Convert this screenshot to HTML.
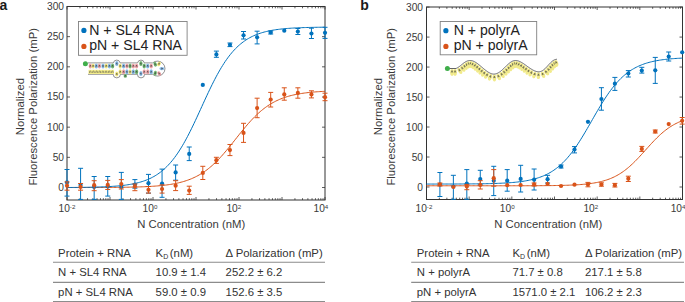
<!DOCTYPE html><html><head><meta charset="utf-8"><style>
html,body{margin:0;padding:0;background:#fff;}
svg{display:block;}
text{font-family:"Liberation Sans",sans-serif;fill:#3a3a3a;}
.tk{font-size:10.2px;}
.sup{font-size:6.2px;}
.lab{font-size:11.3px;}
.leg{font-size:14.1px;fill:#222;}
.tb{font-size:11.35px;fill:#333;}
.pl{font-size:14px;font-weight:bold;fill:#1a1a1a;}
</style></head><body>
<svg width="685" height="302" viewBox="0 0 685 302">
<text x="-0.5" y="9.7" class="pl">a</text>
<rect x="67.0" y="6.5" width="258.0" height="193.5" fill="none" stroke="#333333" stroke-width="1"/>
<path d="M67.00,200.0v-3M67.00,6.5v3M79.94,200.0v-1.8M79.94,6.5v1.8M87.52,200.0v-1.8M87.52,6.5v1.8M92.89,200.0v-1.8M92.89,6.5v1.8M97.06,200.0v-1.8M97.06,6.5v1.8M100.46,200.0v-1.8M100.46,6.5v1.8M103.34,200.0v-1.8M103.34,6.5v1.8M105.83,200.0v-1.8M105.83,6.5v1.8M108.03,200.0v-1.8M108.03,6.5v1.8M110.00,200.0v-3M110.00,6.5v3M122.94,200.0v-1.8M122.94,6.5v1.8M130.52,200.0v-1.8M130.52,6.5v1.8M135.89,200.0v-1.8M135.89,6.5v1.8M140.06,200.0v-1.8M140.06,6.5v1.8M143.46,200.0v-1.8M143.46,6.5v1.8M146.34,200.0v-1.8M146.34,6.5v1.8M148.83,200.0v-1.8M148.83,6.5v1.8M151.03,200.0v-1.8M151.03,6.5v1.8M153.00,200.0v-3M153.00,6.5v3M165.94,200.0v-1.8M165.94,6.5v1.8M173.52,200.0v-1.8M173.52,6.5v1.8M178.89,200.0v-1.8M178.89,6.5v1.8M183.06,200.0v-1.8M183.06,6.5v1.8M186.46,200.0v-1.8M186.46,6.5v1.8M189.34,200.0v-1.8M189.34,6.5v1.8M191.83,200.0v-1.8M191.83,6.5v1.8M194.03,200.0v-1.8M194.03,6.5v1.8M196.00,200.0v-3M196.00,6.5v3M208.94,200.0v-1.8M208.94,6.5v1.8M216.52,200.0v-1.8M216.52,6.5v1.8M221.89,200.0v-1.8M221.89,6.5v1.8M226.06,200.0v-1.8M226.06,6.5v1.8M229.46,200.0v-1.8M229.46,6.5v1.8M232.34,200.0v-1.8M232.34,6.5v1.8M234.83,200.0v-1.8M234.83,6.5v1.8M237.03,200.0v-1.8M237.03,6.5v1.8M239.00,200.0v-3M239.00,6.5v3M251.94,200.0v-1.8M251.94,6.5v1.8M259.52,200.0v-1.8M259.52,6.5v1.8M264.89,200.0v-1.8M264.89,6.5v1.8M269.06,200.0v-1.8M269.06,6.5v1.8M272.46,200.0v-1.8M272.46,6.5v1.8M275.34,200.0v-1.8M275.34,6.5v1.8M277.83,200.0v-1.8M277.83,6.5v1.8M280.03,200.0v-1.8M280.03,6.5v1.8M282.00,200.0v-3M282.00,6.5v3M294.94,200.0v-1.8M294.94,6.5v1.8M302.52,200.0v-1.8M302.52,6.5v1.8M307.89,200.0v-1.8M307.89,6.5v1.8M312.06,200.0v-1.8M312.06,6.5v1.8M315.46,200.0v-1.8M315.46,6.5v1.8M318.34,200.0v-1.8M318.34,6.5v1.8M320.83,200.0v-1.8M320.83,6.5v1.8M323.03,200.0v-1.8M323.03,6.5v1.8M325.0,200.0v-3M325.0,6.5v3M67.0,187.50h3M325.0,187.50h-3M67.0,157.33h3M325.0,157.33h-3M67.0,127.16h3M325.0,127.16h-3M67.0,96.99h3M325.0,96.99h-3M67.0,66.82h3M325.0,66.82h-3M67.0,36.65h3M325.0,36.65h-3M67.0,6.48h3M325.0,6.48h-3" stroke="#333333" stroke-width="0.8" fill="none"/>
<text x="64" y="191.00" text-anchor="end" class="tk">0</text>
<text x="64" y="160.83" text-anchor="end" class="tk">50</text>
<text x="64" y="130.66" text-anchor="end" class="tk">100</text>
<text x="64" y="100.49" text-anchor="end" class="tk">150</text>
<text x="64" y="70.32" text-anchor="end" class="tk">200</text>
<text x="64" y="40.15" text-anchor="end" class="tk">250</text>
<text x="64" y="9.98" text-anchor="end" class="tk">300</text>
<text x="58.50" y="212" class="tk">10<tspan class="sup" dy="-3.2">-2</tspan></text>
<text x="142.60" y="212" class="tk">10<tspan class="sup" dy="-3.2">0</tspan></text>
<text x="226.40" y="212" class="tk">10<tspan class="sup" dy="-3.2">2</tspan></text>
<text x="313.50" y="212" class="tk">10<tspan class="sup" dy="-3.2">4</tspan></text>
<text transform="translate(23.8,106.6) rotate(-90)" text-anchor="middle" class="lab">Normalized</text>
<text transform="translate(37.2,106.8) rotate(-90)" text-anchor="middle" class="lab">Fluorescence Polarization (mP)</text>
<text x="137.2" y="227.6" class="lab">N Concentration (nM)</text>
<svg x="0" y="0" width="685" height="302">
<path d="M67.00,187.54 L68.30,187.53 L69.59,187.53 L70.89,187.53 L72.19,187.53 L73.48,187.53 L74.78,187.53 L76.08,187.53 L77.37,187.52 L78.67,187.52 L79.96,187.52 L81.26,187.52 L82.56,187.52 L83.85,187.51 L85.15,187.51 L86.45,187.51 L87.74,187.51 L89.04,187.50 L90.34,187.50 L91.63,187.50 L92.93,187.49 L94.23,187.49 L95.52,187.48 L96.82,187.48 L98.12,187.47 L99.41,187.47 L100.71,187.46 L102.01,187.46 L103.30,187.45 L104.60,187.44 L105.89,187.44 L107.19,187.43 L108.49,187.42 L109.78,187.41 L111.08,187.40 L112.38,187.39 L113.67,187.38 L114.97,187.37 L116.27,187.36 L117.56,187.34 L118.86,187.33 L120.16,187.31 L121.45,187.30 L122.75,187.28 L124.05,187.26 L125.34,187.24 L126.64,187.22 L127.93,187.20 L129.23,187.17 L130.53,187.14 L131.82,187.12 L133.12,187.09 L134.42,187.05 L135.71,187.02 L137.01,186.98 L138.31,186.94 L139.60,186.90 L140.90,186.86 L142.20,186.81 L143.49,186.76 L144.79,186.70 L146.09,186.64 L147.38,186.58 L148.68,186.51 L149.97,186.44 L151.27,186.36 L152.57,186.28 L153.86,186.20 L155.16,186.10 L156.46,186.00 L157.75,185.90 L159.05,185.78 L160.35,185.66 L161.64,185.53 L162.94,185.40 L164.24,185.25 L165.53,185.09 L166.83,184.93 L168.13,184.75 L169.42,184.56 L170.72,184.36 L172.02,184.14 L173.31,183.91 L174.61,183.67 L175.90,183.41 L177.20,183.14 L178.50,182.84 L179.79,182.53 L181.09,182.20 L182.39,181.85 L183.68,181.48 L184.98,181.08 L186.28,180.66 L187.57,180.22 L188.87,179.74 L190.17,179.25 L191.46,178.72 L192.76,178.16 L194.06,177.57 L195.35,176.95 L196.65,176.30 L197.94,175.61 L199.24,174.89 L200.54,174.13 L201.83,173.33 L203.13,172.49 L204.43,171.61 L205.72,170.69 L207.02,169.73 L208.32,168.72 L209.61,167.68 L210.91,166.59 L212.21,165.46 L213.50,164.29 L214.80,163.08 L216.10,161.82 L217.39,160.52 L218.69,159.19 L219.98,157.81 L221.28,156.40 L222.58,154.96 L223.87,153.48 L225.17,151.98 L226.47,150.44 L227.76,148.88 L229.06,147.30 L230.36,145.70 L231.65,144.09 L232.95,142.46 L234.25,140.83 L235.54,139.19 L236.84,137.55 L238.14,135.92 L239.43,134.29 L240.73,132.67 L242.03,131.07 L243.32,129.48 L244.62,127.92 L245.91,126.38 L247.21,124.86 L248.51,123.38 L249.80,121.92 L251.10,120.51 L252.40,119.12 L253.69,117.78 L254.99,116.47 L256.29,115.20 L257.58,113.98 L258.88,112.79 L260.18,111.65 L261.47,110.55 L262.77,109.50 L264.07,108.48 L265.36,107.51 L266.66,106.58 L267.95,105.69 L269.25,104.84 L270.55,104.03 L271.84,103.26 L273.14,102.53 L274.44,101.83 L275.73,101.17 L277.03,100.54 L278.33,99.94 L279.62,99.37 L280.92,98.84 L282.22,98.33 L283.51,97.86 L284.81,97.41 L286.11,96.98 L287.40,96.58 L288.70,96.20 L289.99,95.84 L291.29,95.50 L292.59,95.19 L293.88,94.89 L295.18,94.61 L296.48,94.35 L297.77,94.10 L299.07,93.87 L300.37,93.65 L301.66,93.44 L302.96,93.25 L304.26,93.07 L305.55,92.90 L306.85,92.74 L308.15,92.59 L309.44,92.45 L310.74,92.32 L312.04,92.20 L313.33,92.08 L314.63,91.97 L315.92,91.87 L317.22,91.78 L318.52,91.69 L319.81,91.61 L321.11,91.53 L322.41,91.46 L323.70,91.39 L325.00,91.32" fill="none" stroke="#D95319" stroke-width="1.0"/>
<path d="M67.00,187.50 L68.30,187.49 L69.59,187.48 L70.89,187.47 L72.19,187.46 L73.48,187.45 L74.78,187.44 L76.08,187.43 L77.37,187.42 L78.67,187.40 L79.96,187.39 L81.26,187.37 L82.56,187.36 L83.85,187.34 L85.15,187.32 L86.45,187.30 L87.74,187.28 L89.04,187.26 L90.34,187.23 L91.63,187.20 L92.93,187.17 L94.23,187.14 L95.52,187.11 L96.82,187.07 L98.12,187.03 L99.41,186.99 L100.71,186.95 L102.01,186.90 L103.30,186.85 L104.60,186.80 L105.89,186.74 L107.19,186.67 L108.49,186.61 L109.78,186.53 L111.08,186.46 L112.38,186.37 L113.67,186.28 L114.97,186.19 L116.27,186.09 L117.56,185.98 L118.86,185.86 L120.16,185.73 L121.45,185.60 L122.75,185.45 L124.05,185.30 L125.34,185.13 L126.64,184.95 L127.93,184.76 L129.23,184.55 L130.53,184.34 L131.82,184.10 L133.12,183.85 L134.42,183.58 L135.71,183.30 L137.01,182.99 L138.31,182.66 L139.60,182.31 L140.90,181.94 L142.20,181.54 L143.49,181.11 L144.79,180.65 L146.09,180.17 L147.38,179.65 L148.68,179.10 L149.97,178.51 L151.27,177.88 L152.57,177.21 L153.86,176.50 L155.16,175.75 L156.46,174.95 L157.75,174.10 L159.05,173.20 L160.35,172.24 L161.64,171.23 L162.94,170.16 L164.24,169.02 L165.53,167.83 L166.83,166.57 L168.13,165.24 L169.42,163.84 L170.72,162.37 L172.02,160.83 L173.31,159.21 L174.61,157.52 L175.90,155.75 L177.20,153.90 L178.50,151.98 L179.79,149.98 L181.09,147.90 L182.39,145.74 L183.68,143.51 L184.98,141.21 L186.28,138.84 L187.57,136.41 L188.87,133.91 L190.17,131.35 L191.46,128.73 L192.76,126.07 L194.06,123.36 L195.35,120.61 L196.65,117.83 L197.94,115.02 L199.24,112.20 L200.54,109.36 L201.83,106.52 L203.13,103.68 L204.43,100.84 L205.72,98.03 L207.02,95.24 L208.32,92.47 L209.61,89.75 L210.91,87.06 L212.21,84.42 L213.50,81.84 L214.80,79.31 L216.10,76.84 L217.39,74.44 L218.69,72.11 L219.98,69.85 L221.28,67.66 L222.58,65.55 L223.87,63.51 L225.17,61.55 L226.47,59.67 L227.76,57.87 L229.06,56.14 L230.36,54.49 L231.65,52.91 L232.95,51.41 L234.25,49.98 L235.54,48.62 L236.84,47.33 L238.14,46.10 L239.43,44.94 L240.73,43.85 L242.03,42.81 L243.32,41.83 L244.62,40.90 L245.91,40.03 L247.21,39.20 L248.51,38.43 L249.80,37.70 L251.10,37.01 L252.40,36.37 L253.69,35.76 L254.99,35.20 L256.29,34.66 L257.58,34.16 L258.88,33.69 L260.18,33.25 L261.47,32.84 L262.77,32.46 L264.07,32.09 L265.36,31.76 L266.66,31.44 L267.95,31.14 L269.25,30.87 L270.55,30.61 L271.84,30.37 L273.14,30.14 L274.44,29.93 L275.73,29.73 L277.03,29.55 L278.33,29.38 L279.62,29.22 L280.92,29.07 L282.22,28.93 L283.51,28.80 L284.81,28.68 L286.11,28.56 L287.40,28.46 L288.70,28.36 L289.99,28.27 L291.29,28.18 L292.59,28.10 L293.88,28.03 L295.18,27.96 L296.48,27.89 L297.77,27.83 L299.07,27.77 L300.37,27.72 L301.66,27.67 L302.96,27.63 L304.26,27.58 L305.55,27.54 L306.85,27.51 L308.15,27.47 L309.44,27.44 L310.74,27.41 L312.04,27.38 L313.33,27.36 L314.63,27.33 L315.92,27.31 L317.22,27.29 L318.52,27.27 L319.81,27.25 L321.11,27.23 L322.41,27.22 L323.70,27.20 L325.00,27.19" fill="none" stroke="#0072BD" stroke-width="1.0"/>
<path d="M67.00,169.50V196.10M64.50,169.50H69.50M64.50,196.10H69.50" stroke="#0072BD" stroke-width="1" fill="none"/>
<circle cx="67.00" cy="182.40" r="2.1" fill="#0072BD"/>
<path d="M80.58,168.30V199.40M78.08,168.30H83.08M78.08,199.40H83.08" stroke="#0072BD" stroke-width="1" fill="none"/>
<circle cx="80.58" cy="184.90" r="2.1" fill="#0072BD"/>
<path d="M94.16,176.50V199.40M91.66,176.50H96.66M91.66,199.40H96.66" stroke="#0072BD" stroke-width="1" fill="none"/>
<circle cx="94.16" cy="187.00" r="2.1" fill="#0072BD"/>
<path d="M107.74,176.50V196.10M105.24,176.50H110.24M105.24,196.10H110.24" stroke="#0072BD" stroke-width="1" fill="none"/>
<circle cx="107.74" cy="186.50" r="2.1" fill="#0072BD"/>
<path d="M121.32,172.40V199.40M118.82,172.40H123.82M118.82,199.40H123.82" stroke="#0072BD" stroke-width="1" fill="none"/>
<circle cx="121.32" cy="187.00" r="2.1" fill="#0072BD"/>
<path d="M134.90,179.60V188.20M132.40,179.60H137.40M132.40,188.20H137.40" stroke="#0072BD" stroke-width="1" fill="none"/>
<circle cx="134.90" cy="184.50" r="2.1" fill="#0072BD"/>
<path d="M148.48,174.40V193.10M145.98,174.40H150.98M145.98,193.10H150.98" stroke="#0072BD" stroke-width="1" fill="none"/>
<circle cx="148.48" cy="183.20" r="2.1" fill="#0072BD"/>
<path d="M162.06,169.10V197.30M159.56,169.10H164.56M159.56,197.30H164.56" stroke="#0072BD" stroke-width="1" fill="none"/>
<circle cx="162.06" cy="183.50" r="2.1" fill="#0072BD"/>
<path d="M175.64,165.00V180.20M173.14,165.00H178.14M173.14,180.20H178.14" stroke="#0072BD" stroke-width="1" fill="none"/>
<circle cx="175.64" cy="172.40" r="2.1" fill="#0072BD"/>
<path d="M189.22,147.00V160.60M186.72,147.00H191.72M186.72,160.60H191.72" stroke="#0072BD" stroke-width="1" fill="none"/>
<circle cx="189.22" cy="153.90" r="2.1" fill="#0072BD"/>
<circle cx="202.80" cy="84.90" r="2.1" fill="#0072BD"/>
<path d="M216.38,51.10V57.30M213.88,51.10H218.88M213.88,57.30H218.88" stroke="#0072BD" stroke-width="1" fill="none"/>
<circle cx="216.38" cy="54.40" r="2.1" fill="#0072BD"/>
<path d="M229.96,43.00V46.60M227.46,43.00H232.46M227.46,46.60H232.46" stroke="#0072BD" stroke-width="1" fill="none"/>
<circle cx="229.96" cy="44.80" r="2.1" fill="#0072BD"/>
<path d="M243.54,31.50V39.00M241.04,31.50H246.04M241.04,39.00H246.04" stroke="#0072BD" stroke-width="1" fill="none"/>
<circle cx="243.54" cy="35.30" r="2.1" fill="#0072BD"/>
<path d="M257.12,31.20V43.90M254.62,31.20H259.62M254.62,43.90H259.62" stroke="#0072BD" stroke-width="1" fill="none"/>
<circle cx="257.12" cy="37.30" r="2.1" fill="#0072BD"/>
<path d="M270.70,31.00V34.00M268.20,31.00H273.20M268.20,34.00H273.20" stroke="#0072BD" stroke-width="1" fill="none"/>
<circle cx="270.70" cy="32.40" r="2.1" fill="#0072BD"/>
<circle cx="284.28" cy="30.70" r="2.1" fill="#0072BD"/>
<path d="M297.86,28.50V34.50M295.36,28.50H300.36M295.36,34.50H300.36" stroke="#0072BD" stroke-width="1" fill="none"/>
<circle cx="297.86" cy="31.50" r="2.1" fill="#0072BD"/>
<path d="M311.44,28.20V38.50M308.94,28.20H313.94M308.94,38.50H313.94" stroke="#0072BD" stroke-width="1" fill="none"/>
<circle cx="311.44" cy="33.50" r="2.1" fill="#0072BD"/>
<path d="M325.02,27.30V38.40M322.52,27.30H327.52M322.52,38.40H327.52" stroke="#0072BD" stroke-width="1" fill="none"/>
<circle cx="325.02" cy="32.80" r="2.1" fill="#0072BD"/>
<path d="M67.00,181.90V190.20M64.50,181.90H69.50M64.50,190.20H69.50" stroke="#D95319" stroke-width="1" fill="none"/>
<circle cx="67.00" cy="185.70" r="2.1" fill="#D95319"/>
<path d="M80.58,183.50V190.20M78.08,183.50H83.08M78.08,190.20H83.08" stroke="#D95319" stroke-width="1" fill="none"/>
<circle cx="80.58" cy="186.90" r="2.1" fill="#D95319"/>
<path d="M94.16,180.70V190.70M91.66,180.70H96.66M91.66,190.70H96.66" stroke="#D95319" stroke-width="1" fill="none"/>
<circle cx="94.16" cy="185.20" r="2.1" fill="#D95319"/>
<path d="M107.74,180.40V189.50M105.24,180.40H110.24M105.24,189.50H110.24" stroke="#D95319" stroke-width="1" fill="none"/>
<circle cx="107.74" cy="184.90" r="2.1" fill="#D95319"/>
<path d="M121.32,179.60V189.00M118.82,179.60H123.82M118.82,189.00H123.82" stroke="#D95319" stroke-width="1" fill="none"/>
<circle cx="121.32" cy="184.00" r="2.1" fill="#D95319"/>
<path d="M134.90,184.00V190.70M132.40,184.00H137.40M132.40,190.70H137.40" stroke="#D95319" stroke-width="1" fill="none"/>
<circle cx="134.90" cy="186.50" r="2.1" fill="#D95319"/>
<path d="M148.48,186.50V193.10M145.98,186.50H150.98M145.98,193.10H150.98" stroke="#D95319" stroke-width="1" fill="none"/>
<circle cx="148.48" cy="189.80" r="2.1" fill="#D95319"/>
<path d="M162.06,184.80V193.10M159.56,184.80H164.56M159.56,193.10H164.56" stroke="#D95319" stroke-width="1" fill="none"/>
<circle cx="162.06" cy="189.00" r="2.1" fill="#D95319"/>
<path d="M175.64,180.70V190.60M173.14,180.70H178.14M173.14,190.60H178.14" stroke="#D95319" stroke-width="1" fill="none"/>
<circle cx="175.64" cy="185.70" r="2.1" fill="#D95319"/>
<path d="M189.22,186.20V194.40M186.72,186.20H191.72M186.72,194.40H191.72" stroke="#D95319" stroke-width="1" fill="none"/>
<circle cx="189.22" cy="190.60" r="2.1" fill="#D95319"/>
<path d="M202.80,166.30V179.50M200.30,166.30H205.30M200.30,179.50H205.30" stroke="#D95319" stroke-width="1" fill="none"/>
<circle cx="202.80" cy="172.90" r="2.1" fill="#D95319"/>
<path d="M216.38,157.30V163.40M213.88,157.30H218.88M213.88,163.40H218.88" stroke="#D95319" stroke-width="1" fill="none"/>
<circle cx="216.38" cy="160.20" r="2.1" fill="#D95319"/>
<path d="M229.96,144.50V155.60M227.46,144.50H232.46M227.46,155.60H232.46" stroke="#D95319" stroke-width="1" fill="none"/>
<circle cx="229.96" cy="150.10" r="2.1" fill="#D95319"/>
<path d="M243.54,123.30V142.40M241.04,123.30H246.04M241.04,142.40H246.04" stroke="#D95319" stroke-width="1" fill="none"/>
<circle cx="243.54" cy="132.90" r="2.1" fill="#D95319"/>
<path d="M257.12,98.20V117.70M254.62,98.20H259.62M254.62,117.70H259.62" stroke="#D95319" stroke-width="1" fill="none"/>
<circle cx="257.12" cy="108.10" r="2.1" fill="#D95319"/>
<path d="M270.70,92.40V107.00M268.20,92.40H273.20M268.20,107.00H273.20" stroke="#D95319" stroke-width="1" fill="none"/>
<circle cx="270.70" cy="99.50" r="2.1" fill="#D95319"/>
<path d="M284.28,87.80V100.20M281.78,87.80H286.78M281.78,100.20H286.78" stroke="#D95319" stroke-width="1" fill="none"/>
<circle cx="284.28" cy="94.40" r="2.1" fill="#D95319"/>
<path d="M297.86,87.80V98.20M295.36,87.80H300.36M295.36,98.20H300.36" stroke="#D95319" stroke-width="1" fill="none"/>
<circle cx="297.86" cy="92.90" r="2.1" fill="#D95319"/>
<path d="M311.44,90.80V97.90M308.94,90.80H313.94M308.94,97.90H313.94" stroke="#D95319" stroke-width="1" fill="none"/>
<circle cx="311.44" cy="94.40" r="2.1" fill="#D95319"/>
<path d="M325.02,93.20V100.70M322.52,93.20H327.52M322.52,100.70H327.52" stroke="#D95319" stroke-width="1" fill="none"/>
<circle cx="325.02" cy="97.20" r="2.1" fill="#D95319"/>
</svg>
<path d="M88,62.9 H113.4 A3.4,3.4 0 0 1 120.1,62.9 H137.6 A3.4,3.4 0 0 1 144.3,62.9 H152.6 A7.5,7.5 0 1 1 152.6,74.3 H144.6 A3.4,3.4 0 0 1 137.4,74.3 H120.4 A3.6,3.6 0 0 1 113.2,74.3 H88" fill="#fff" stroke="#4a4a4a" stroke-width="0.6"/>
<rect x="88.5" y="69.8" width="25.5" height="4.2" fill="#f3ec8c"/>
<ellipse cx="90.30" cy="65.90" rx="1.65" ry="2.5" fill="#eda3a8" transform="rotate(0.0 90.30 65.90)"/><path d="M89.70,66.80L90.30,65.00L90.90,66.80" stroke="#3a3a3a" stroke-width="0.6" fill="none" opacity="0.9" transform="rotate(0.0 90.30 65.90)"/>
<ellipse cx="93.10" cy="65.90" rx="1.65" ry="2.5" fill="#efe47c" transform="rotate(0.0 93.10 65.90)"/><path d="M92.50,66.80L93.10,65.00L93.70,66.80" stroke="#3a3a3a" stroke-width="0.6" fill="none" opacity="0.9" transform="rotate(0.0 93.10 65.90)"/>
<ellipse cx="96.30" cy="65.90" rx="1.65" ry="2.5" fill="#86b9e6" transform="rotate(0.0 96.30 65.90)"/><path d="M95.70,66.80L96.30,65.00L96.90,66.80" stroke="#3a3a3a" stroke-width="0.6" fill="none" opacity="0.9" transform="rotate(0.0 96.30 65.90)"/>
<ellipse cx="99.40" cy="65.90" rx="1.65" ry="2.5" fill="#eda3a8" transform="rotate(0.0 99.40 65.90)"/><path d="M98.80,66.80L99.40,65.00L100.00,66.80" stroke="#3a3a3a" stroke-width="0.6" fill="none" opacity="0.9" transform="rotate(0.0 99.40 65.90)"/>
<ellipse cx="103.00" cy="65.90" rx="1.65" ry="2.5" fill="#86b9e6" transform="rotate(0.0 103.00 65.90)"/><path d="M102.40,66.80L103.00,65.00L103.60,66.80" stroke="#3a3a3a" stroke-width="0.6" fill="none" opacity="0.9" transform="rotate(0.0 103.00 65.90)"/>
<ellipse cx="106.20" cy="65.90" rx="1.65" ry="2.5" fill="#efe47c" transform="rotate(0.0 106.20 65.90)"/><path d="M105.60,66.80L106.20,65.00L106.80,66.80" stroke="#3a3a3a" stroke-width="0.6" fill="none" opacity="0.9" transform="rotate(0.0 106.20 65.90)"/>
<ellipse cx="109.40" cy="65.90" rx="1.65" ry="2.5" fill="#86b9e6" transform="rotate(0.0 109.40 65.90)"/><path d="M108.80,66.80L109.40,65.00L110.00,66.80" stroke="#3a3a3a" stroke-width="0.6" fill="none" opacity="0.9" transform="rotate(0.0 109.40 65.90)"/>
<ellipse cx="112.60" cy="65.90" rx="1.65" ry="2.5" fill="#72b872" transform="rotate(0.0 112.60 65.90)"/><path d="M112.00,66.80L112.60,65.00L113.20,66.80" stroke="#3a3a3a" stroke-width="0.6" fill="none" opacity="0.9" transform="rotate(0.0 112.60 65.90)"/>
<path d="M89.50,73.0V71.8a0.8,0.8 0 0 1 1.6,0V73.0" stroke="#3a3a3a" stroke-width="0.55" fill="none" opacity="0.85"/>
<path d="M92.65,73.0V71.8a0.8,0.8 0 0 1 1.6,0V73.0" stroke="#3a3a3a" stroke-width="0.55" fill="none" opacity="0.85"/>
<path d="M95.80,73.0V71.8a0.8,0.8 0 0 1 1.6,0V73.0" stroke="#3a3a3a" stroke-width="0.55" fill="none" opacity="0.85"/>
<path d="M98.95,73.0V71.8a0.8,0.8 0 0 1 1.6,0V73.0" stroke="#3a3a3a" stroke-width="0.55" fill="none" opacity="0.85"/>
<path d="M102.10,73.0V71.8a0.8,0.8 0 0 1 1.6,0V73.0" stroke="#3a3a3a" stroke-width="0.55" fill="none" opacity="0.85"/>
<path d="M105.25,73.0V71.8a0.8,0.8 0 0 1 1.6,0V73.0" stroke="#3a3a3a" stroke-width="0.55" fill="none" opacity="0.85"/>
<path d="M108.40,73.0V71.8a0.8,0.8 0 0 1 1.6,0V73.0" stroke="#3a3a3a" stroke-width="0.55" fill="none" opacity="0.85"/>
<path d="M111.55,73.0V71.8a0.8,0.8 0 0 1 1.6,0V73.0" stroke="#3a3a3a" stroke-width="0.55" fill="none" opacity="0.85"/>
<ellipse cx="116.80" cy="63.60" rx="1.65" ry="2.5" fill="#86b9e6" transform="rotate(0.0 116.80 63.60)"/><path d="M116.20,64.50L116.80,62.70L117.40,64.50" stroke="#3a3a3a" stroke-width="0.6" fill="none" opacity="0.9" transform="rotate(0.0 116.80 63.60)"/>
<ellipse cx="116.80" cy="74.00" rx="1.65" ry="2.5" fill="#efe47c" transform="rotate(0.0 116.80 74.00)"/><path d="M116.20,74.90L116.80,73.10L117.40,74.90" stroke="#3a3a3a" stroke-width="0.6" fill="none" opacity="0.9" transform="rotate(0.0 116.80 74.00)"/>
<ellipse cx="120.20" cy="65.90" rx="1.65" ry="2.5" fill="#efe47c" transform="rotate(0.0 120.20 65.90)"/><path d="M119.60,66.80L120.20,65.00L120.80,66.80" stroke="#3a3a3a" stroke-width="0.6" fill="none" opacity="0.9" transform="rotate(0.0 120.20 65.90)"/>
<ellipse cx="123.60" cy="65.90" rx="1.65" ry="2.5" fill="#86b9e6" transform="rotate(0.0 123.60 65.90)"/><path d="M123.00,66.80L123.60,65.00L124.20,66.80" stroke="#3a3a3a" stroke-width="0.6" fill="none" opacity="0.9" transform="rotate(0.0 123.60 65.90)"/>
<ellipse cx="126.90" cy="65.90" rx="1.65" ry="2.5" fill="#eda3a8" transform="rotate(0.0 126.90 65.90)"/><path d="M126.30,66.80L126.90,65.00L127.50,66.80" stroke="#3a3a3a" stroke-width="0.6" fill="none" opacity="0.9" transform="rotate(0.0 126.90 65.90)"/>
<ellipse cx="130.10" cy="65.90" rx="1.65" ry="2.5" fill="#72b872" transform="rotate(0.0 130.10 65.90)"/><path d="M129.50,66.80L130.10,65.00L130.70,66.80" stroke="#3a3a3a" stroke-width="0.6" fill="none" opacity="0.9" transform="rotate(0.0 130.10 65.90)"/>
<ellipse cx="133.30" cy="65.90" rx="1.65" ry="2.5" fill="#eda3a8" transform="rotate(0.0 133.30 65.90)"/><path d="M132.70,66.80L133.30,65.00L133.90,66.80" stroke="#3a3a3a" stroke-width="0.6" fill="none" opacity="0.9" transform="rotate(0.0 133.30 65.90)"/>
<ellipse cx="136.60" cy="65.90" rx="1.65" ry="2.5" fill="#eda3a8" transform="rotate(0.0 136.60 65.90)"/><path d="M136.00,66.80L136.60,65.00L137.20,66.80" stroke="#3a3a3a" stroke-width="0.6" fill="none" opacity="0.9" transform="rotate(0.0 136.60 65.90)"/>
<ellipse cx="120.20" cy="71.80" rx="1.65" ry="2.5" fill="#efe47c" transform="rotate(0.0 120.20 71.80)"/><path d="M119.60,72.70L120.20,70.90L120.80,72.70" stroke="#3a3a3a" stroke-width="0.6" fill="none" opacity="0.9" transform="rotate(0.0 120.20 71.80)"/>
<ellipse cx="123.60" cy="71.80" rx="1.65" ry="2.5" fill="#eda3a8" transform="rotate(0.0 123.60 71.80)"/><path d="M123.00,72.70L123.60,70.90L124.20,72.70" stroke="#3a3a3a" stroke-width="0.6" fill="none" opacity="0.9" transform="rotate(0.0 123.60 71.80)"/>
<ellipse cx="126.90" cy="71.80" rx="1.65" ry="2.5" fill="#86b9e6" transform="rotate(0.0 126.90 71.80)"/><path d="M126.30,72.70L126.90,70.90L127.50,72.70" stroke="#3a3a3a" stroke-width="0.6" fill="none" opacity="0.9" transform="rotate(0.0 126.90 71.80)"/>
<ellipse cx="130.10" cy="71.80" rx="1.65" ry="2.5" fill="#efe47c" transform="rotate(0.0 130.10 71.80)"/><path d="M129.50,72.70L130.10,70.90L130.70,72.70" stroke="#3a3a3a" stroke-width="0.6" fill="none" opacity="0.9" transform="rotate(0.0 130.10 71.80)"/>
<ellipse cx="133.30" cy="71.80" rx="1.65" ry="2.5" fill="#86b9e6" transform="rotate(0.0 133.30 71.80)"/><path d="M132.70,72.70L133.30,70.90L133.90,72.70" stroke="#3a3a3a" stroke-width="0.6" fill="none" opacity="0.9" transform="rotate(0.0 133.30 71.80)"/>
<ellipse cx="136.60" cy="71.80" rx="1.65" ry="2.5" fill="#72b872" transform="rotate(0.0 136.60 71.80)"/><path d="M136.00,72.70L136.60,70.90L137.20,72.70" stroke="#3a3a3a" stroke-width="0.6" fill="none" opacity="0.9" transform="rotate(0.0 136.60 71.80)"/>
<ellipse cx="125.30" cy="75.90" rx="1.7" ry="1.9" fill="#72b872" transform="rotate(0.0 125.30 75.90)"/><path d="M124.70,76.80L125.30,75.00L125.90,76.80" stroke="#3a3a3a" stroke-width="0.6" fill="none" opacity="0.9" transform="rotate(0.0 125.30 75.90)"/>
<ellipse cx="140.90" cy="63.60" rx="1.65" ry="2.5" fill="#72b872" transform="rotate(0.0 140.90 63.60)"/><path d="M140.30,64.50L140.90,62.70L141.50,64.50" stroke="#3a3a3a" stroke-width="0.6" fill="none" opacity="0.9" transform="rotate(0.0 140.90 63.60)"/>
<ellipse cx="140.90" cy="73.60" rx="1.65" ry="2.5" fill="#86b9e6" transform="rotate(0.0 140.90 73.60)"/><path d="M140.30,74.50L140.90,72.70L141.50,74.50" stroke="#3a3a3a" stroke-width="0.6" fill="none" opacity="0.9" transform="rotate(0.0 140.90 73.60)"/>
<ellipse cx="144.20" cy="65.90" rx="1.65" ry="2.5" fill="#72b872" transform="rotate(0.0 144.20 65.90)"/><path d="M143.60,66.80L144.20,65.00L144.80,66.80" stroke="#3a3a3a" stroke-width="0.6" fill="none" opacity="0.9" transform="rotate(0.0 144.20 65.90)"/>
<ellipse cx="147.70" cy="65.90" rx="1.65" ry="2.5" fill="#86b9e6" transform="rotate(0.0 147.70 65.90)"/><path d="M147.10,66.80L147.70,65.00L148.30,66.80" stroke="#3a3a3a" stroke-width="0.6" fill="none" opacity="0.9" transform="rotate(0.0 147.70 65.90)"/>
<ellipse cx="151.20" cy="65.90" rx="1.65" ry="2.5" fill="#eda3a8" transform="rotate(0.0 151.20 65.90)"/><path d="M150.60,66.80L151.20,65.00L151.80,66.80" stroke="#3a3a3a" stroke-width="0.6" fill="none" opacity="0.9" transform="rotate(0.0 151.20 65.90)"/>
<ellipse cx="144.20" cy="71.80" rx="1.65" ry="2.5" fill="#eda3a8" transform="rotate(0.0 144.20 71.80)"/><path d="M143.60,72.70L144.20,70.90L144.80,72.70" stroke="#3a3a3a" stroke-width="0.6" fill="none" opacity="0.9" transform="rotate(0.0 144.20 71.80)"/>
<ellipse cx="147.70" cy="71.80" rx="1.65" ry="2.5" fill="#eda3a8" transform="rotate(0.0 147.70 71.80)"/><path d="M147.10,72.70L147.70,70.90L148.30,72.70" stroke="#3a3a3a" stroke-width="0.6" fill="none" opacity="0.9" transform="rotate(0.0 147.70 71.80)"/>
<ellipse cx="151.20" cy="71.80" rx="1.65" ry="2.5" fill="#86b9e6" transform="rotate(0.0 151.20 71.80)"/><path d="M150.60,72.70L151.20,70.90L151.80,72.70" stroke="#3a3a3a" stroke-width="0.6" fill="none" opacity="0.9" transform="rotate(0.0 151.20 71.80)"/>
<ellipse cx="155.20" cy="64.20" rx="1.65" ry="2.5" fill="#72b872" transform="rotate(-20.0 155.20 64.20)"/><path d="M154.60,65.10L155.20,63.30L155.80,65.10" stroke="#3a3a3a" stroke-width="0.6" fill="none" opacity="0.9" transform="rotate(-20.0 155.20 64.20)"/>
<ellipse cx="159.00" cy="63.80" rx="1.65" ry="2.5" fill="#efe47c" transform="rotate(30.0 159.00 63.80)"/><path d="M158.40,64.70L159.00,62.90L159.60,64.70" stroke="#3a3a3a" stroke-width="0.6" fill="none" opacity="0.9" transform="rotate(30.0 159.00 63.80)"/>
<ellipse cx="161.90" cy="68.60" rx="1.65" ry="2.5" fill="#86b9e6" transform="rotate(90.0 161.90 68.60)"/><path d="M161.30,69.50L161.90,67.70L162.50,69.50" stroke="#3a3a3a" stroke-width="0.6" fill="none" opacity="0.9" transform="rotate(90.0 161.90 68.60)"/>
<ellipse cx="159.20" cy="73.50" rx="1.65" ry="2.5" fill="#eda3a8" transform="rotate(-35.0 159.20 73.50)"/><path d="M158.60,74.40L159.20,72.60L159.80,74.40" stroke="#3a3a3a" stroke-width="0.6" fill="none" opacity="0.9" transform="rotate(-35.0 159.20 73.50)"/>
<ellipse cx="155.20" cy="73.20" rx="1.65" ry="2.5" fill="#72b872" transform="rotate(15.0 155.20 73.20)"/><path d="M154.60,74.10L155.20,72.30L155.80,74.10" stroke="#3a3a3a" stroke-width="0.6" fill="none" opacity="0.9" transform="rotate(15.0 155.20 73.20)"/>
<circle cx="85.4" cy="63.7" r="2.5" fill="#3fae4a"/>
<rect x="78.5" y="21.5" width="108.6" height="33.8" fill="#fff" stroke="#808080" stroke-width="0.9"/>
<circle cx="83.9" cy="30.4" r="2.6" fill="#0072BD"/>
<circle cx="83.9" cy="46.4" r="2.6" fill="#D95319"/>
<text x="89.2" y="34.8" class="leg">N + SL4 RNA</text>
<text x="89.2" y="50.3" class="leg">pN + SL4 RNA</text>
<path d="M53,262.3H325M53,282.4H325M53,301.5H325" stroke="#8c8c8c" stroke-width="1.1" fill="none"/>
<text x="58.1" y="256.8" class="tb">Protein + RNA</text>
<text x="155.6" y="256.8" class="tb">K<tspan font-size="7px" dy="2.3">D</tspan><tspan dy="-2.3" dx="1.6">(nM)</tspan></text>
<text x="225.6" y="256.8" class="tb">Δ Polarization (mP)</text>
<text x="58.1" y="276.3" class="tb">N + SL4 RNA</text>
<text x="155.6" y="276.3" class="tb">10.9 ± 1.4</text>
<text x="225.6" y="276.3" class="tb">252.2 ± 6.2</text>
<text x="58.1" y="296.1" class="tb">pN + SL4 RNA</text>
<text x="155.6" y="296.1" class="tb">59.0 ± 0.9</text>
<text x="225.6" y="296.1" class="tb">152.6 ± 3.5</text>
<text x="360.2" y="9.7" class="pl">b</text>
<rect x="426.5" y="7.0" width="256.0" height="192.5" fill="none" stroke="#333333" stroke-width="1"/>
<path d="M426.50,199.5v-3M426.50,7.0v3M439.34,199.5v-1.8M439.34,7.0v1.8M446.86,199.5v-1.8M446.86,7.0v1.8M452.19,199.5v-1.8M452.19,7.0v1.8M456.32,199.5v-1.8M456.32,7.0v1.8M459.70,199.5v-1.8M459.70,7.0v1.8M462.56,199.5v-1.8M462.56,7.0v1.8M465.03,199.5v-1.8M465.03,7.0v1.8M467.21,199.5v-1.8M467.21,7.0v1.8M469.17,199.5v-3M469.17,7.0v3M482.01,199.5v-1.8M482.01,7.0v1.8M489.52,199.5v-1.8M489.52,7.0v1.8M494.85,199.5v-1.8M494.85,7.0v1.8M498.99,199.5v-1.8M498.99,7.0v1.8M502.37,199.5v-1.8M502.37,7.0v1.8M505.22,199.5v-1.8M505.22,7.0v1.8M507.70,199.5v-1.8M507.70,7.0v1.8M509.88,199.5v-1.8M509.88,7.0v1.8M511.83,199.5v-3M511.83,7.0v3M524.68,199.5v-1.8M524.68,7.0v1.8M532.19,199.5v-1.8M532.19,7.0v1.8M537.52,199.5v-1.8M537.52,7.0v1.8M541.66,199.5v-1.8M541.66,7.0v1.8M545.03,199.5v-1.8M545.03,7.0v1.8M547.89,199.5v-1.8M547.89,7.0v1.8M550.37,199.5v-1.8M550.37,7.0v1.8M552.55,199.5v-1.8M552.55,7.0v1.8M554.50,199.5v-3M554.50,7.0v3M567.34,199.5v-1.8M567.34,7.0v1.8M574.86,199.5v-1.8M574.86,7.0v1.8M580.19,199.5v-1.8M580.19,7.0v1.8M584.32,199.5v-1.8M584.32,7.0v1.8M587.70,199.5v-1.8M587.70,7.0v1.8M590.56,199.5v-1.8M590.56,7.0v1.8M593.03,199.5v-1.8M593.03,7.0v1.8M595.21,199.5v-1.8M595.21,7.0v1.8M597.17,199.5v-3M597.17,7.0v3M610.01,199.5v-1.8M610.01,7.0v1.8M617.52,199.5v-1.8M617.52,7.0v1.8M622.85,199.5v-1.8M622.85,7.0v1.8M626.99,199.5v-1.8M626.99,7.0v1.8M630.37,199.5v-1.8M630.37,7.0v1.8M633.22,199.5v-1.8M633.22,7.0v1.8M635.70,199.5v-1.8M635.70,7.0v1.8M637.88,199.5v-1.8M637.88,7.0v1.8M639.83,199.5v-3M639.83,7.0v3M652.68,199.5v-1.8M652.68,7.0v1.8M660.19,199.5v-1.8M660.19,7.0v1.8M665.52,199.5v-1.8M665.52,7.0v1.8M669.66,199.5v-1.8M669.66,7.0v1.8M673.03,199.5v-1.8M673.03,7.0v1.8M675.89,199.5v-1.8M675.89,7.0v1.8M678.37,199.5v-1.8M678.37,7.0v1.8M680.55,199.5v-1.8M680.55,7.0v1.8M682.5,199.5v-3M682.5,7.0v3M426.5,187.00h3M682.5,187.00h-3M426.5,157.02h3M682.5,157.02h-3M426.5,127.03h3M682.5,127.03h-3M426.5,97.05h3M682.5,97.05h-3M426.5,67.07h3M682.5,67.07h-3M426.5,37.08h3M682.5,37.08h-3M426.5,7.10h3M682.5,7.10h-3" stroke="#333333" stroke-width="0.8" fill="none"/>
<text x="423" y="190.50" text-anchor="end" class="tk">0</text>
<text x="423" y="160.52" text-anchor="end" class="tk">50</text>
<text x="423" y="130.53" text-anchor="end" class="tk">100</text>
<text x="423" y="100.55" text-anchor="end" class="tk">150</text>
<text x="423" y="70.57" text-anchor="end" class="tk">200</text>
<text x="423" y="40.58" text-anchor="end" class="tk">250</text>
<text x="423" y="10.60" text-anchor="end" class="tk">300</text>
<text x="415.50" y="212" class="tk">10<tspan class="sup" dy="-3.2">-2</tspan></text>
<text x="499.80" y="212" class="tk">10<tspan class="sup" dy="-3.2">0</tspan></text>
<text x="583.40" y="212" class="tk">10<tspan class="sup" dy="-3.2">2</tspan></text>
<text x="670.70" y="212" class="tk">10<tspan class="sup" dy="-3.2">4</tspan></text>
<text transform="translate(381.6,106.6) rotate(-90)" text-anchor="middle" class="lab">Normalized</text>
<text transform="translate(395.3,106.8) rotate(-90)" text-anchor="middle" class="lab">Fluorescence Polarization (mP)</text>
<text x="494.3" y="227.7" class="lab">N Concentration (nM)</text>
<path d="M426.50,185.78 L427.79,185.78 L429.07,185.78 L430.36,185.78 L431.65,185.78 L432.93,185.78 L434.22,185.78 L435.51,185.78 L436.79,185.78 L438.08,185.78 L439.36,185.78 L440.65,185.78 L441.94,185.78 L443.22,185.78 L444.51,185.78 L445.80,185.78 L447.08,185.78 L448.37,185.78 L449.66,185.78 L450.94,185.78 L452.23,185.78 L453.52,185.78 L454.80,185.78 L456.09,185.78 L457.37,185.78 L458.66,185.78 L459.95,185.78 L461.23,185.78 L462.52,185.78 L463.81,185.78 L465.09,185.78 L466.38,185.78 L467.67,185.78 L468.95,185.78 L470.24,185.78 L471.53,185.78 L472.81,185.78 L474.10,185.78 L475.38,185.78 L476.67,185.78 L477.96,185.78 L479.24,185.78 L480.53,185.78 L481.82,185.78 L483.10,185.78 L484.39,185.78 L485.68,185.78 L486.96,185.78 L488.25,185.78 L489.54,185.78 L490.82,185.78 L492.11,185.78 L493.39,185.78 L494.68,185.78 L495.97,185.78 L497.25,185.78 L498.54,185.78 L499.83,185.77 L501.11,185.77 L502.40,185.77 L503.69,185.77 L504.97,185.77 L506.26,185.77 L507.55,185.77 L508.83,185.77 L510.12,185.77 L511.40,185.77 L512.69,185.76 L513.98,185.76 L515.26,185.76 L516.55,185.76 L517.84,185.76 L519.12,185.76 L520.41,185.75 L521.70,185.75 L522.98,185.75 L524.27,185.75 L525.56,185.74 L526.84,185.74 L528.13,185.74 L529.41,185.73 L530.70,185.73 L531.99,185.72 L533.27,185.72 L534.56,185.71 L535.85,185.71 L537.13,185.70 L538.42,185.69 L539.71,185.68 L540.99,185.68 L542.28,185.67 L543.57,185.66 L544.85,185.65 L546.14,185.64 L547.42,185.62 L548.71,185.61 L550.00,185.60 L551.28,185.58 L552.57,185.57 L553.86,185.55 L555.14,185.53 L556.43,185.51 L557.72,185.48 L559.00,185.46 L560.29,185.43 L561.58,185.40 L562.86,185.37 L564.15,185.34 L565.43,185.30 L566.72,185.26 L568.01,185.22 L569.29,185.17 L570.58,185.12 L571.87,185.06 L573.15,185.00 L574.44,184.94 L575.73,184.87 L577.01,184.80 L578.30,184.72 L579.59,184.63 L580.87,184.53 L582.16,184.43 L583.44,184.32 L584.73,184.20 L586.02,184.07 L587.30,183.93 L588.59,183.78 L589.88,183.62 L591.16,183.45 L592.45,183.26 L593.74,183.06 L595.02,182.84 L596.31,182.60 L597.60,182.35 L598.88,182.08 L600.17,181.79 L601.45,181.48 L602.74,181.14 L604.03,180.78 L605.31,180.39 L606.60,179.98 L607.89,179.54 L609.17,179.07 L610.46,178.56 L611.75,178.03 L613.03,177.45 L614.32,176.85 L615.61,176.20 L616.89,175.51 L618.18,174.79 L619.46,174.02 L620.75,173.21 L622.04,172.36 L623.32,171.47 L624.61,170.53 L625.90,169.54 L627.18,168.51 L628.47,167.44 L629.76,166.33 L631.04,165.17 L632.33,163.98 L633.62,162.74 L634.90,161.47 L636.19,160.17 L637.47,158.84 L638.76,157.48 L640.05,156.10 L641.33,154.69 L642.62,153.28 L643.91,151.85 L645.19,150.42 L646.48,148.98 L647.77,147.55 L649.05,146.13 L650.34,144.72 L651.63,143.32 L652.91,141.95 L654.20,140.60 L655.48,139.27 L656.77,137.98 L658.06,136.73 L659.34,135.51 L660.63,134.33 L661.92,133.18 L663.20,132.09 L664.49,131.03 L665.78,130.02 L667.06,129.05 L668.35,128.13 L669.64,127.25 L670.92,126.41 L672.21,125.62 L673.49,124.87 L674.78,124.16 L676.07,123.49 L677.35,122.86 L678.64,122.26 L679.93,121.70 L681.21,121.18 L682.50,120.69" fill="none" stroke="#D95319" stroke-width="1.0"/>
<path d="M426.50,184.06 L427.79,184.05 L429.07,184.05 L430.36,184.05 L431.65,184.05 L432.93,184.05 L434.22,184.05 L435.51,184.05 L436.79,184.04 L438.08,184.04 L439.36,184.04 L440.65,184.04 L441.94,184.04 L443.22,184.03 L444.51,184.03 L445.80,184.03 L447.08,184.03 L448.37,184.02 L449.66,184.02 L450.94,184.02 L452.23,184.01 L453.52,184.01 L454.80,184.00 L456.09,184.00 L457.37,183.99 L458.66,183.99 L459.95,183.98 L461.23,183.98 L462.52,183.97 L463.81,183.96 L465.09,183.95 L466.38,183.95 L467.67,183.94 L468.95,183.93 L470.24,183.92 L471.53,183.90 L472.81,183.89 L474.10,183.88 L475.38,183.87 L476.67,183.85 L477.96,183.83 L479.24,183.82 L480.53,183.80 L481.82,183.78 L483.10,183.76 L484.39,183.73 L485.68,183.71 L486.96,183.68 L488.25,183.66 L489.54,183.62 L490.82,183.59 L492.11,183.56 L493.39,183.52 L494.68,183.48 L495.97,183.44 L497.25,183.39 L498.54,183.34 L499.83,183.29 L501.11,183.23 L502.40,183.17 L503.69,183.10 L504.97,183.03 L506.26,182.96 L507.55,182.87 L508.83,182.79 L510.12,182.69 L511.40,182.59 L512.69,182.49 L513.98,182.37 L515.26,182.25 L516.55,182.12 L517.84,181.97 L519.12,181.82 L520.41,181.66 L521.70,181.49 L522.98,181.30 L524.27,181.10 L525.56,180.89 L526.84,180.66 L528.13,180.42 L529.41,180.15 L530.70,179.88 L531.99,179.58 L533.27,179.26 L534.56,178.92 L535.85,178.56 L537.13,178.17 L538.42,177.76 L539.71,177.32 L540.99,176.85 L542.28,176.35 L543.57,175.82 L544.85,175.25 L546.14,174.65 L547.42,174.01 L548.71,173.33 L550.00,172.61 L551.28,171.85 L552.57,171.04 L553.86,170.19 L555.14,169.28 L556.43,168.33 L557.72,167.32 L559.00,166.26 L560.29,165.15 L561.58,163.97 L562.86,162.74 L564.15,161.45 L565.43,160.10 L566.72,158.69 L568.01,157.21 L569.29,155.68 L570.58,154.08 L571.87,152.42 L573.15,150.70 L574.44,148.93 L575.73,147.09 L577.01,145.21 L578.30,143.26 L579.59,141.27 L580.87,139.23 L582.16,137.15 L583.44,135.03 L584.73,132.88 L586.02,130.69 L587.30,128.49 L588.59,126.26 L589.88,124.02 L591.16,121.77 L592.45,119.51 L593.74,117.26 L595.02,115.02 L596.31,112.79 L597.60,110.58 L598.88,108.40 L600.17,106.25 L601.45,104.13 L602.74,102.05 L604.03,100.01 L605.31,98.02 L606.60,96.08 L607.89,94.19 L609.17,92.36 L610.46,90.58 L611.75,88.87 L613.03,87.21 L614.32,85.62 L615.61,84.08 L616.89,82.61 L618.18,81.20 L619.46,79.85 L620.75,78.56 L622.04,77.33 L623.32,76.16 L624.61,75.04 L625.90,73.98 L627.18,72.98 L628.47,72.02 L629.76,71.12 L631.04,70.27 L632.33,69.46 L633.62,68.70 L634.90,67.98 L636.19,67.30 L637.47,66.67 L638.76,66.07 L640.05,65.50 L641.33,64.97 L642.62,64.47 L643.91,64.00 L645.19,63.56 L646.48,63.15 L647.77,62.76 L649.05,62.40 L650.34,62.06 L651.63,61.74 L652.91,61.45 L654.20,61.17 L655.48,60.91 L656.77,60.66 L658.06,60.44 L659.34,60.22 L660.63,60.02 L661.92,59.84 L663.20,59.66 L664.49,59.50 L665.78,59.35 L667.06,59.21 L668.35,59.08 L669.64,58.96 L670.92,58.84 L672.21,58.73 L673.49,58.63 L674.78,58.54 L676.07,58.45 L677.35,58.37 L678.64,58.30 L679.93,58.23 L681.21,58.16 L682.50,58.10" fill="none" stroke="#0072BD" stroke-width="1.0"/>
<path d="M439.90,172.50V196.50M437.40,172.50H442.40M437.40,196.50H442.40" stroke="#0072BD" stroke-width="1" fill="none"/>
<circle cx="439.90" cy="184.50" r="2.1" fill="#0072BD"/>
<path d="M453.36,175.30V199.30M450.86,175.30H455.86M450.86,199.30H455.86" stroke="#0072BD" stroke-width="1" fill="none"/>
<circle cx="453.36" cy="186.50" r="2.1" fill="#0072BD"/>
<path d="M466.82,169.60V199.30M464.32,169.60H469.32M464.32,199.30H469.32" stroke="#0072BD" stroke-width="1" fill="none"/>
<circle cx="466.82" cy="183.50" r="2.1" fill="#0072BD"/>
<path d="M480.28,170.30V184.90M477.78,170.30H482.78M477.78,184.90H482.78" stroke="#0072BD" stroke-width="1" fill="none"/>
<circle cx="480.28" cy="179.10" r="2.1" fill="#0072BD"/>
<path d="M493.74,166.30V195.60M491.24,166.30H496.24M491.24,195.60H496.24" stroke="#0072BD" stroke-width="1" fill="none"/>
<circle cx="493.74" cy="180.70" r="2.1" fill="#0072BD"/>
<path d="M507.20,169.60V191.20M504.70,169.60H509.70M504.70,191.20H509.70" stroke="#0072BD" stroke-width="1" fill="none"/>
<circle cx="507.20" cy="180.70" r="2.1" fill="#0072BD"/>
<path d="M520.66,165.30V192.00M518.16,165.30H523.16M518.16,192.00H523.16" stroke="#0072BD" stroke-width="1" fill="none"/>
<circle cx="520.66" cy="178.90" r="2.1" fill="#0072BD"/>
<path d="M534.12,169.00V190.00M531.62,169.00H536.62M531.62,190.00H536.62" stroke="#0072BD" stroke-width="1" fill="none"/>
<circle cx="534.12" cy="179.70" r="2.1" fill="#0072BD"/>
<path d="M547.58,175.30V183.00M545.08,175.30H550.08M545.08,183.00H550.08" stroke="#0072BD" stroke-width="1" fill="none"/>
<circle cx="547.58" cy="179.20" r="2.1" fill="#0072BD"/>
<path d="M561.04,165.00V168.00M558.54,165.00H563.54M558.54,168.00H563.54" stroke="#0072BD" stroke-width="1" fill="none"/>
<circle cx="561.04" cy="166.50" r="2.1" fill="#0072BD"/>
<path d="M574.50,146.60V152.90M572.00,146.60H577.00M572.00,152.90H577.00" stroke="#0072BD" stroke-width="1" fill="none"/>
<circle cx="574.50" cy="149.60" r="2.1" fill="#0072BD"/>
<circle cx="587.96" cy="121.80" r="2.1" fill="#0072BD"/>
<path d="M601.42,87.70V110.20M598.92,87.70H603.92M598.92,110.20H603.92" stroke="#0072BD" stroke-width="1" fill="none"/>
<circle cx="601.42" cy="99.00" r="2.1" fill="#0072BD"/>
<path d="M614.88,77.40V90.40M612.38,77.40H617.38M612.38,90.40H617.38" stroke="#0072BD" stroke-width="1" fill="none"/>
<circle cx="614.88" cy="83.70" r="2.1" fill="#0072BD"/>
<path d="M628.34,70.60V77.00M625.84,70.60H630.84M625.84,77.00H630.84" stroke="#0072BD" stroke-width="1" fill="none"/>
<circle cx="628.34" cy="73.50" r="2.1" fill="#0072BD"/>
<path d="M641.80,67.30V73.10M639.30,67.30H644.30M639.30,73.10H644.30" stroke="#0072BD" stroke-width="1" fill="none"/>
<circle cx="641.80" cy="70.60" r="2.1" fill="#0072BD"/>
<path d="M655.26,57.40V83.40M652.76,57.40H657.76M652.76,83.40H657.76" stroke="#0072BD" stroke-width="1" fill="none"/>
<circle cx="655.26" cy="70.30" r="2.1" fill="#0072BD"/>
<path d="M668.72,52.00V61.00M666.22,52.00H671.22M666.22,61.00H671.22" stroke="#0072BD" stroke-width="1" fill="none"/>
<circle cx="668.72" cy="56.60" r="2.1" fill="#0072BD"/>
<circle cx="682.18" cy="52.30" r="2.1" fill="#0072BD"/>
<path d="M439.90,183.00V186.00M437.40,183.00H442.40M437.40,186.00H442.40" stroke="#D95319" stroke-width="1" fill="none"/>
<circle cx="439.90" cy="184.50" r="2.1" fill="#D95319"/>
<circle cx="453.36" cy="187.00" r="2.1" fill="#D95319"/>
<path d="M466.82,184.40V189.70M464.32,184.40H469.32M464.32,189.70H469.32" stroke="#D95319" stroke-width="1" fill="none"/>
<circle cx="466.82" cy="186.40" r="2.1" fill="#D95319"/>
<path d="M480.28,180.70V189.00M477.78,180.70H482.78M477.78,189.00H482.78" stroke="#D95319" stroke-width="1" fill="none"/>
<circle cx="480.28" cy="184.90" r="2.1" fill="#D95319"/>
<path d="M493.74,169.60V186.20M491.24,169.60H496.24M491.24,186.20H496.24" stroke="#D95319" stroke-width="1" fill="none"/>
<circle cx="493.74" cy="178.20" r="2.1" fill="#D95319"/>
<circle cx="507.20" cy="185.20" r="2.1" fill="#D95319"/>
<circle cx="520.66" cy="185.00" r="2.1" fill="#D95319"/>
<path d="M534.12,183.00V186.00M531.62,183.00H536.62M531.62,186.00H536.62" stroke="#D95319" stroke-width="1" fill="none"/>
<circle cx="534.12" cy="184.40" r="2.1" fill="#D95319"/>
<circle cx="547.58" cy="183.90" r="2.1" fill="#D95319"/>
<circle cx="561.04" cy="186.00" r="2.1" fill="#D95319"/>
<circle cx="574.50" cy="184.70" r="2.1" fill="#D95319"/>
<path d="M587.96,182.40V186.80M585.46,182.40H590.46M585.46,186.80H590.46" stroke="#D95319" stroke-width="1" fill="none"/>
<circle cx="587.96" cy="184.50" r="2.1" fill="#D95319"/>
<path d="M601.42,182.80V186.20M598.92,182.80H603.92M598.92,186.20H603.92" stroke="#D95319" stroke-width="1" fill="none"/>
<circle cx="601.42" cy="184.50" r="2.1" fill="#D95319"/>
<path d="M614.88,183.40V187.00M612.38,183.40H617.38M612.38,187.00H617.38" stroke="#D95319" stroke-width="1" fill="none"/>
<circle cx="614.88" cy="185.20" r="2.1" fill="#D95319"/>
<path d="M628.34,176.20V181.50M625.84,176.20H630.84M625.84,181.50H630.84" stroke="#D95319" stroke-width="1" fill="none"/>
<circle cx="628.34" cy="178.70" r="2.1" fill="#D95319"/>
<path d="M641.80,146.40V151.40M639.30,146.40H644.30M639.30,151.40H644.30" stroke="#D95319" stroke-width="1" fill="none"/>
<circle cx="641.80" cy="148.90" r="2.1" fill="#D95319"/>
<path d="M655.26,130.00V133.00M652.76,130.00H657.76M652.76,133.00H657.76" stroke="#D95319" stroke-width="1" fill="none"/>
<circle cx="655.26" cy="131.50" r="2.1" fill="#D95319"/>
<circle cx="668.72" cy="124.10" r="2.1" fill="#D95319"/>
<path d="M682.18,117.50V124.10M679.68,117.50H684.68M679.68,124.10H684.68" stroke="#D95319" stroke-width="1" fill="none"/>
<circle cx="682.18" cy="120.80" r="2.1" fill="#D95319"/>
<rect x="440.2" y="21.5" width="96.5" height="33.3" fill="#fff" stroke="#808080" stroke-width="0.9"/>
<circle cx="445.9" cy="30.7" r="2.6" fill="#0072BD"/>
<circle cx="445.9" cy="46.4" r="2.6" fill="#D95319"/>
<text x="453.7" y="34.8" class="leg">N + polyrA</text>
<text x="453.7" y="50.3" class="leg">pN + polyrA</text>
<ellipse cx="452.00" cy="72.40" rx="1.85" ry="3.4" fill="#f1ea8a" transform="rotate(0.0 452.00 72.40)"/>
<path d="M451.25,72.50L452.00,70.50L452.75,72.50M451.60,71.85H452.40" stroke="#444" stroke-width="0.55" fill="none" transform="rotate(0.0 452.00 71.50)"/>
<ellipse cx="455.05" cy="72.40" rx="1.85" ry="3.4" fill="#f1ea8a" transform="rotate(0.0 455.05 72.40)"/>
<path d="M454.30,72.50L455.05,70.50L455.80,72.50M454.65,71.85H455.45" stroke="#444" stroke-width="0.55" fill="none" transform="rotate(0.0 455.05 71.50)"/>
<ellipse cx="459.90" cy="70.88" rx="1.85" ry="3.4" fill="#f1ea8a" transform="rotate(-31.4 459.90 70.88)"/>
<path d="M458.68,71.11L459.43,69.11L460.18,71.11M459.03,70.46H459.83" stroke="#444" stroke-width="0.55" fill="none" transform="rotate(-31.4 459.43 70.11)"/>
<ellipse cx="462.78" cy="68.82" rx="1.85" ry="3.4" fill="#f1ea8a" transform="rotate(-38.6 462.78 68.82)"/>
<path d="M461.47,69.11L462.22,67.11L462.97,69.11M461.82,68.46H462.62" stroke="#444" stroke-width="0.55" fill="none" transform="rotate(-38.6 462.22 68.11)"/>
<ellipse cx="465.15" cy="66.88" rx="1.85" ry="3.4" fill="#f1ea8a" transform="rotate(-38.8 465.15 66.88)"/>
<path d="M463.84,67.18L464.59,65.18L465.34,67.18M464.19,66.53H464.99" stroke="#444" stroke-width="0.55" fill="none" transform="rotate(-38.8 464.59 66.18)"/>
<ellipse cx="467.25" cy="65.37" rx="1.85" ry="3.4" fill="#f1ea8a" transform="rotate(-32.0 467.25 65.37)"/>
<path d="M466.02,65.60L466.77,63.60L467.52,65.60M466.37,64.95H467.17" stroke="#444" stroke-width="0.55" fill="none" transform="rotate(-32.0 466.77 64.60)"/>
<ellipse cx="468.95" cy="64.57" rx="1.85" ry="3.4" fill="#f1ea8a" transform="rotate(-14.9 468.95 64.57)"/>
<path d="M467.97,64.70L468.72,62.70L469.47,64.70M468.32,64.05H469.12" stroke="#444" stroke-width="0.55" fill="none" transform="rotate(-14.9 468.72 63.70)"/>
<ellipse cx="470.43" cy="64.42" rx="1.85" ry="3.4" fill="#f1ea8a" transform="rotate(7.9 470.43 64.42)"/>
<path d="M469.80,64.53L470.55,62.53L471.30,64.53M470.15,63.88H470.95" stroke="#444" stroke-width="0.55" fill="none" transform="rotate(7.9 470.55 63.53)"/>
<ellipse cx="472.24" cy="64.96" rx="1.85" ry="3.4" fill="#f1ea8a" transform="rotate(24.9 472.24 64.96)"/>
<path d="M471.87,65.15L472.62,63.15L473.37,65.15M472.22,64.50H473.02" stroke="#444" stroke-width="0.55" fill="none" transform="rotate(24.9 472.62 64.15)"/>
<ellipse cx="474.36" cy="66.19" rx="1.85" ry="3.4" fill="#f1ea8a" transform="rotate(33.6 474.36 66.19)"/>
<path d="M474.11,66.44L474.86,64.44L475.61,66.44M474.46,65.79H475.26" stroke="#444" stroke-width="0.55" fill="none" transform="rotate(33.6 474.86 65.44)"/>
<ellipse cx="476.54" cy="67.82" rx="1.85" ry="3.4" fill="#f1ea8a" transform="rotate(38.4 476.54 67.82)"/>
<path d="M476.35,68.11L477.10,66.11L477.85,68.11M476.70,67.46H477.50" stroke="#444" stroke-width="0.55" fill="none" transform="rotate(38.4 477.10 67.11)"/>
<ellipse cx="478.78" cy="69.68" rx="1.85" ry="3.4" fill="#f1ea8a" transform="rotate(40.4 478.78 69.68)"/>
<path d="M478.62,70.00L479.37,68.00L480.12,70.00M478.97,69.35H479.77" stroke="#444" stroke-width="0.55" fill="none" transform="rotate(40.4 479.37 69.00)"/>
<ellipse cx="481.13" cy="71.68" rx="1.85" ry="3.4" fill="#f1ea8a" transform="rotate(40.0 481.13 71.68)"/>
<path d="M480.96,71.99L481.71,69.99L482.46,71.99M481.31,71.34H482.11" stroke="#444" stroke-width="0.55" fill="none" transform="rotate(40.0 481.71 70.99)"/>
<ellipse cx="483.66" cy="73.71" rx="1.85" ry="3.4" fill="#f1ea8a" transform="rotate(37.1 483.66 73.71)"/>
<path d="M483.45,73.99L484.20,71.99L484.95,73.99M483.80,73.34H484.60" stroke="#444" stroke-width="0.55" fill="none" transform="rotate(37.1 484.20 72.99)"/>
<ellipse cx="486.51" cy="75.66" rx="1.85" ry="3.4" fill="#f1ea8a" transform="rotate(31.2 486.51 75.66)"/>
<path d="M486.22,75.89L486.97,73.89L487.72,75.89M486.57,75.24H487.37" stroke="#444" stroke-width="0.55" fill="none" transform="rotate(31.2 486.97 74.89)"/>
<ellipse cx="490.03" cy="77.33" rx="1.85" ry="3.4" fill="#f1ea8a" transform="rotate(18.6 490.03 77.33)"/>
<path d="M489.57,77.48L490.32,75.48L491.07,77.48M489.92,76.83H490.72" stroke="#444" stroke-width="0.55" fill="none" transform="rotate(18.6 490.32 76.48)"/>
<ellipse cx="494.38" cy="77.99" rx="1.85" ry="3.4" fill="#f1ea8a" transform="rotate(-1.6 494.38 77.99)"/>
<path d="M493.60,78.09L494.35,76.09L495.10,78.09M493.95,77.44H494.75" stroke="#444" stroke-width="0.55" fill="none" transform="rotate(-1.6 494.35 77.09)"/>
<ellipse cx="498.79" cy="76.93" rx="1.85" ry="3.4" fill="#f1ea8a" transform="rotate(-23.9 498.79 76.93)"/>
<path d="M497.68,77.10L498.43,75.10L499.18,77.10M498.03,76.45H498.83" stroke="#444" stroke-width="0.55" fill="none" transform="rotate(-23.9 498.43 76.10)"/>
<ellipse cx="502.14" cy="74.98" rx="1.85" ry="3.4" fill="#f1ea8a" transform="rotate(-36.0 502.14 74.98)"/>
<path d="M500.86,75.25L501.61,73.25L502.36,75.25M501.21,74.60H502.01" stroke="#444" stroke-width="0.55" fill="none" transform="rotate(-36.0 501.61 74.25)"/>
<ellipse cx="504.80" cy="72.81" rx="1.85" ry="3.4" fill="#f1ea8a" transform="rotate(-41.8 504.80 72.81)"/>
<path d="M503.45,73.14L504.20,71.14L504.95,73.14M503.80,72.49H504.60" stroke="#444" stroke-width="0.55" fill="none" transform="rotate(-41.8 504.20 72.14)"/>
<ellipse cx="507.15" cy="70.58" rx="1.85" ry="3.4" fill="#f1ea8a" transform="rotate(-44.5 507.15 70.58)"/>
<path d="M505.77,70.94L506.52,68.94L507.27,70.94M506.12,70.29H506.92" stroke="#444" stroke-width="0.55" fill="none" transform="rotate(-44.5 506.52 69.94)"/>
<ellipse cx="509.30" cy="68.48" rx="1.85" ry="3.4" fill="#f1ea8a" transform="rotate(-43.8 509.30 68.48)"/>
<path d="M507.92,68.83L508.67,66.83L509.42,68.83M508.27,68.18H509.07" stroke="#444" stroke-width="0.55" fill="none" transform="rotate(-43.8 508.67 67.83)"/>
<ellipse cx="511.37" cy="66.59" rx="1.85" ry="3.4" fill="#f1ea8a" transform="rotate(-40.3 511.37 66.59)"/>
<path d="M510.04,66.90L510.79,64.90L511.54,66.90M510.39,66.25H511.19" stroke="#444" stroke-width="0.55" fill="none" transform="rotate(-40.3 510.79 65.90)"/>
<ellipse cx="513.33" cy="65.15" rx="1.85" ry="3.4" fill="#f1ea8a" transform="rotate(-31.2 513.33 65.15)"/>
<path d="M512.12,65.38L512.87,63.38L513.62,65.38M512.47,64.73H513.27" stroke="#444" stroke-width="0.55" fill="none" transform="rotate(-31.2 512.87 64.38)"/>
<ellipse cx="514.91" cy="64.47" rx="1.85" ry="3.4" fill="#f1ea8a" transform="rotate(-11.7 514.91 64.47)"/>
<path d="M513.97,64.59L514.72,62.59L515.47,64.59M514.32,63.94H515.12" stroke="#444" stroke-width="0.55" fill="none" transform="rotate(-11.7 514.72 63.59)"/>
<ellipse cx="516.34" cy="64.49" rx="1.85" ry="3.4" fill="#f1ea8a" transform="rotate(11.9 516.34 64.49)"/>
<path d="M515.78,64.61L516.53,62.61L517.28,64.61M516.13,63.96H516.93" stroke="#444" stroke-width="0.55" fill="none" transform="rotate(11.9 516.53 63.61)"/>
<ellipse cx="518.38" cy="65.20" rx="1.85" ry="3.4" fill="#f1ea8a" transform="rotate(24.8 518.38 65.20)"/>
<path d="M518.01,65.38L518.76,63.38L519.51,65.38M518.36,64.73H519.16" stroke="#444" stroke-width="0.55" fill="none" transform="rotate(24.8 518.76 64.38)"/>
<ellipse cx="520.61" cy="66.44" rx="1.85" ry="3.4" fill="#f1ea8a" transform="rotate(32.2 520.61 66.44)"/>
<path d="M520.34,66.68L521.09,64.68L521.84,66.68M520.69,66.03H521.49" stroke="#444" stroke-width="0.55" fill="none" transform="rotate(32.2 521.09 65.68)"/>
<ellipse cx="522.96" cy="68.03" rx="1.85" ry="3.4" fill="#f1ea8a" transform="rotate(35.2 522.96 68.03)"/>
<path d="M522.73,68.30L523.48,66.30L524.23,68.30M523.08,67.65H523.88" stroke="#444" stroke-width="0.55" fill="none" transform="rotate(35.2 523.48 67.30)"/>
<ellipse cx="525.41" cy="69.79" rx="1.85" ry="3.4" fill="#f1ea8a" transform="rotate(35.8 525.41 69.79)"/>
<path d="M525.18,70.06L525.93,68.06L526.68,70.06M525.53,69.41H526.33" stroke="#444" stroke-width="0.55" fill="none" transform="rotate(35.8 525.93 69.06)"/>
<ellipse cx="528.01" cy="71.62" rx="1.85" ry="3.4" fill="#f1ea8a" transform="rotate(33.8 528.01 71.62)"/>
<path d="M527.76,71.87L528.51,69.87L529.26,71.87M528.11,71.22H528.91" stroke="#444" stroke-width="0.55" fill="none" transform="rotate(33.8 528.51 70.87)"/>
<ellipse cx="530.87" cy="73.38" rx="1.85" ry="3.4" fill="#f1ea8a" transform="rotate(29.3 530.87 73.38)"/>
<path d="M530.56,73.60L531.31,71.60L532.06,73.60M530.91,72.95H531.71" stroke="#444" stroke-width="0.55" fill="none" transform="rotate(29.3 531.31 72.60)"/>
<ellipse cx="534.36" cy="74.95" rx="1.85" ry="3.4" fill="#f1ea8a" transform="rotate(17.9 534.36 74.95)"/>
<path d="M533.88,75.09L534.63,73.09L535.38,75.09M534.23,74.44H535.03" stroke="#444" stroke-width="0.55" fill="none" transform="rotate(17.9 534.63 74.09)"/>
<ellipse cx="538.45" cy="75.69" rx="1.85" ry="3.4" fill="#f1ea8a" transform="rotate(1.4 538.45 75.69)"/>
<path d="M537.72,75.80L538.47,73.80L539.22,75.80M538.07,75.15H538.87" stroke="#444" stroke-width="0.55" fill="none" transform="rotate(1.4 538.47 74.80)"/>
<ellipse cx="543.02" cy="74.77" rx="1.85" ry="3.4" fill="#f1ea8a" transform="rotate(-22.9 543.02 74.77)"/>
<path d="M541.92,74.94L542.67,72.94L543.42,74.94M542.27,74.29H543.07" stroke="#444" stroke-width="0.55" fill="none" transform="rotate(-22.9 542.67 73.94)"/>
<ellipse cx="546.58" cy="72.50" rx="1.85" ry="3.4" fill="#f1ea8a" transform="rotate(-40.3 546.58 72.50)"/>
<path d="M545.24,72.81L545.99,70.81L546.74,72.81M545.59,72.16H546.39" stroke="#444" stroke-width="0.55" fill="none" transform="rotate(-40.3 545.99 71.81)"/>
<ellipse cx="549.09" cy="70.10" rx="1.85" ry="3.4" fill="#f1ea8a" transform="rotate(-46.6 549.09 70.10)"/>
<path d="M547.69,70.48L548.44,68.48L549.19,70.48M548.04,69.83H548.84" stroke="#444" stroke-width="0.55" fill="none" transform="rotate(-46.6 548.44 69.48)"/>
<ellipse cx="551.22" cy="67.76" rx="1.85" ry="3.4" fill="#f1ea8a" transform="rotate(-48.2 551.22 67.76)"/>
<path d="M549.80,68.16L550.55,66.16L551.30,68.16M550.15,67.51H550.95" stroke="#444" stroke-width="0.55" fill="none" transform="rotate(-48.2 550.55 67.16)"/>
<ellipse cx="553.14" cy="65.68" rx="1.85" ry="3.4" fill="#f1ea8a" transform="rotate(-45.0 553.14 65.68)"/>
<path d="M551.75,66.05L552.50,64.05L553.25,66.05M552.10,65.40H552.90" stroke="#444" stroke-width="0.55" fill="none" transform="rotate(-45.0 552.50 65.05)"/>
<ellipse cx="554.99" cy="64.04" rx="1.85" ry="3.4" fill="#f1ea8a" transform="rotate(-36.5 554.99 64.04)"/>
<path d="M553.70,64.32L554.45,62.32L555.20,64.32M554.05,63.67H554.85" stroke="#444" stroke-width="0.55" fill="none" transform="rotate(-36.5 554.45 63.32)"/>
<ellipse cx="556.38" cy="63.30" rx="1.85" ry="3.4" fill="#f1ea8a" transform="rotate(-15.0 556.38 63.30)"/>
<path d="M555.40,63.43L556.15,61.43L556.90,63.43M555.75,62.78H556.55" stroke="#444" stroke-width="0.55" fill="none" transform="rotate(-15.0 556.15 62.43)"/>
<path d="M449.00,68.50 L456.00,68.50 L456.00,68.50 L456.25,68.39 L456.50,68.28 L456.75,68.17 L457.00,68.04 L457.24,67.91 L457.48,67.78 L457.72,67.64 L457.96,67.49 L458.20,67.34 L458.43,67.19 L458.66,67.03 L458.89,66.87 L459.13,66.70 L459.35,66.53 L459.58,66.36 L459.81,66.19 L460.03,66.01 L460.26,65.84 L460.48,65.66 L460.71,65.48 L460.93,65.30 L461.15,65.11 L461.38,64.93 L461.60,64.75 L461.82,64.56 L462.04,64.38 L462.27,64.20 L462.49,64.02 L462.71,63.84 L462.94,63.66 L463.16,63.49 L463.39,63.31 L463.61,63.14 L463.84,62.97 L464.07,62.81 L464.29,62.64 L464.52,62.48 L464.76,62.33 L464.99,62.18 L465.22,62.03 L465.46,61.89 L465.70,61.76 L465.94,61.62 L466.18,61.50 L466.42,61.38 L466.67,61.27 L466.91,61.16 L467.16,61.06 L467.42,60.97 L467.67,60.88 L467.93,60.81 L468.19,60.74 L468.45,60.68 L468.72,60.62 L468.99,60.58 L469.26,60.55 L469.54,60.52 L469.82,60.51 L470.10,60.50 L470.10,60.50 L470.50,60.51 L470.90,60.55 L471.31,60.60 L471.71,60.68 L472.11,60.78 L472.51,60.89 L472.92,61.03 L473.32,61.18 L473.72,61.35 L474.12,61.54 L474.53,61.74 L474.93,61.96 L475.33,62.19 L475.74,62.43 L476.14,62.69 L476.55,62.96 L476.95,63.24 L477.35,63.53 L477.76,63.82 L478.16,64.13 L478.56,64.44 L478.97,64.76 L479.37,65.09 L479.78,65.42 L480.18,65.76 L480.59,66.10 L480.99,66.44 L481.39,66.78 L481.80,67.13 L482.20,67.47 L482.61,67.82 L483.01,68.16 L483.41,68.50 L483.82,68.84 L484.22,69.18 L484.63,69.51 L485.03,69.84 L485.44,70.16 L485.84,70.47 L486.24,70.78 L486.65,71.07 L487.05,71.36 L487.45,71.64 L487.86,71.91 L488.26,72.17 L488.67,72.41 L489.07,72.64 L489.47,72.86 L489.88,73.06 L490.28,73.25 L490.68,73.42 L491.08,73.57 L491.49,73.71 L491.89,73.82 L492.29,73.92 L492.69,74.00 L493.10,74.05 L493.50,74.09 L493.90,74.10 L493.90,74.10 L494.31,74.09 L494.72,74.05 L495.12,74.00 L495.52,73.92 L495.92,73.82 L496.31,73.71 L496.70,73.57 L497.09,73.42 L497.47,73.25 L497.86,73.06 L498.23,72.86 L498.61,72.64 L498.99,72.41 L499.36,72.17 L499.73,71.91 L500.10,71.64 L500.46,71.36 L500.83,71.07 L501.19,70.78 L501.55,70.47 L501.91,70.16 L502.27,69.84 L502.63,69.51 L502.98,69.18 L503.34,68.84 L503.69,68.50 L504.05,68.16 L504.40,67.82 L504.75,67.47 L505.10,67.13 L505.45,66.78 L505.80,66.44 L506.15,66.10 L506.50,65.76 L506.85,65.42 L507.20,65.09 L507.55,64.76 L507.90,64.44 L508.25,64.13 L508.60,63.82 L508.95,63.53 L509.30,63.24 L509.66,62.96 L510.01,62.69 L510.37,62.43 L510.72,62.19 L511.08,61.96 L511.44,61.74 L511.80,61.54 L512.16,61.35 L512.52,61.18 L512.89,61.03 L513.25,60.89 L513.62,60.78 L513.99,60.68 L514.37,60.60 L514.74,60.55 L515.12,60.51 L515.50,60.50 L515.50,60.50 L515.88,60.51 L516.26,60.54 L516.65,60.58 L517.03,60.65 L517.42,60.73 L517.80,60.83 L518.19,60.94 L518.58,61.07 L518.96,61.21 L519.35,61.36 L519.74,61.53 L520.13,61.71 L520.52,61.90 L520.91,62.11 L521.30,62.32 L521.70,62.54 L522.09,62.77 L522.48,63.01 L522.87,63.26 L523.27,63.52 L523.66,63.78 L524.06,64.04 L524.45,64.31 L524.85,64.59 L525.24,64.87 L525.64,65.15 L526.03,65.43 L526.43,65.72 L526.83,66.01 L527.22,66.29 L527.62,66.58 L528.02,66.87 L528.41,67.15 L528.81,67.43 L529.21,67.71 L529.61,67.99 L530.00,68.26 L530.40,68.52 L530.80,68.78 L531.19,69.04 L531.59,69.29 L531.99,69.53 L532.39,69.76 L532.78,69.98 L533.18,70.19 L533.58,70.40 L533.97,70.59 L534.37,70.77 L534.76,70.94 L535.16,71.09 L535.55,71.23 L535.95,71.36 L536.34,71.47 L536.74,71.57 L537.13,71.65 L537.52,71.72 L537.92,71.76 L538.31,71.79 L538.70,71.80 L538.70,71.80 L539.07,71.79 L539.43,71.76 L539.79,71.71 L540.14,71.64 L540.49,71.55 L540.83,71.44 L541.17,71.31 L541.50,71.17 L541.83,71.02 L542.16,70.84 L542.48,70.66 L542.80,70.46 L543.11,70.25 L543.42,70.02 L543.73,69.79 L544.04,69.54 L544.34,69.28 L544.64,69.02 L544.94,68.75 L545.23,68.46 L545.52,68.18 L545.82,67.88 L546.11,67.58 L546.39,67.28 L546.68,66.97 L546.97,66.66 L547.25,66.34 L547.54,66.03 L547.82,65.71 L548.10,65.39 L548.39,65.07 L548.67,64.76 L548.95,64.44 L549.24,64.13 L549.52,63.82 L549.81,63.52 L550.09,63.22 L550.38,62.92 L550.67,62.64 L550.96,62.35 L551.25,62.08 L551.55,61.82 L551.84,61.56 L552.14,61.31 L552.44,61.08 L552.74,60.85 L553.05,60.64 L553.36,60.44 L553.67,60.26 L553.98,60.08 L554.30,59.93 L554.62,59.79 L554.95,59.66 L555.28,59.55 L555.62,59.46 L555.95,59.39 L556.30,59.34 L556.65,59.31 L557.00,59.30" stroke="#333" stroke-width="0.75" fill="none"/>
<circle cx="447.4" cy="68.5" r="2.5" fill="#3fae4a"/>
<path d="M411.2,262.3H684M411.2,282.4H684M411.2,301.5H684" stroke="#8c8c8c" stroke-width="1.1" fill="none"/>
<text x="416.8" y="256.8" class="tb">Protein + RNA</text>
<text x="512.4" y="256.8" class="tb">K<tspan font-size="7px" dy="2.3">D</tspan><tspan dy="-2.3" dx="1.6">(nM)</tspan></text>
<text x="585.0" y="256.8" class="tb">Δ Polarization (mP)</text>
<text x="416.8" y="276.3" class="tb">N + polyrA</text>
<text x="512.4" y="276.3" class="tb">71.7 ± 0.8</text>
<text x="585.0" y="276.3" class="tb">217.1 ± 5.8</text>
<text x="416.8" y="296.1" class="tb">pN + polyrA</text>
<text x="512.4" y="296.1" class="tb">1571.0 ± 2.1</text>
<text x="585.0" y="296.1" class="tb">106.2 ± 2.3</text>
</svg></body></html>
